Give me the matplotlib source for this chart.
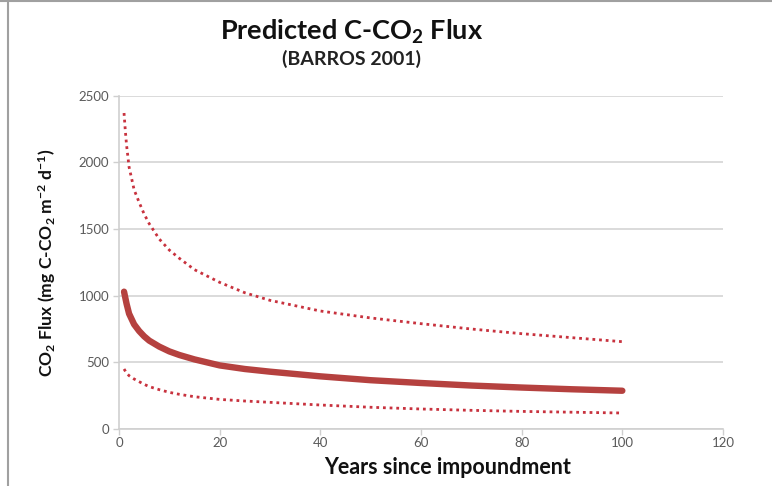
import matplotlib
matplotlib.use("Agg")
import matplotlib.pyplot as plt
from matplotlib.lines import Line2D

plt.rcParams['font.family'] = ['Lato', 'DejaVu Sans']
plt.rcParams['mathtext.fontset'] = 'custom'
plt.rcParams['mathtext.rm'] = 'Lato:bold'
plt.rcParams['mathtext.it'] = 'Lato:bold'
plt.rcParams['mathtext.bf'] = 'Lato:bold'

# Data
years = [1, 1.25, 1.5, 2, 3, 4, 5, 6, 8, 10, 12, 15, 20, 25, 30, 40, 50, 60, 70, 80, 90, 100]
flux_mean = [1030, 985, 940, 865, 785, 735, 695, 663, 618, 582, 555, 522, 477, 450, 430,
             395, 366, 345, 326, 311, 298, 287]
flux_upper = [2370, 2240, 2130, 1965, 1795, 1700, 1612, 1540, 1425, 1342, 1280, 1195, 1100,
              1022, 965, 885, 833, 790, 750, 715, 685, 655]
flux_lower = [450, 435, 420, 400, 375, 355, 335, 318, 295, 275, 260, 242, 222, 210, 200,
              180, 163, 150, 140, 132, 126, 120]

x_ticks = [0, 20, 40, 60, 80, 100, 120]
y_ticks = [0, 500, 1000, 1500, 2000, 2500]

fig = plt.figure(figsize=(7.72, 4.86), dpi=100)
ax = fig.add_axes([119/772, 1 - 429/486, 604/772, (429 - 95.7)/486])

line_col = '#B5413F'
dot_col = '#C8323E'

ax.plot(years, flux_upper, linestyle=(0, (1, 1.4)), color=dot_col, lw=2.0, zorder=3)
ax.plot(years, flux_lower, linestyle=(0, (1, 1.4)), color=dot_col, lw=2.0, zorder=3)
ax.plot(years, flux_mean, color=line_col, lw=4.6, solid_capstyle='round',
        solid_joinstyle='round', zorder=4)

ax.set_xlim(0, 120)
ax.set_ylim(0, 2500)
ax.set_xticks(x_ticks)
ax.set_yticks(y_ticks)
ax.grid(axis='y', color='#D4D4D4', lw=1.2)
ax.set_axisbelow(True)
for s in ['top', 'right']:
    ax.spines[s].set_visible(False)
for s in ['left', 'bottom']:
    ax.spines[s].set_color('#CFCFCF')
    ax.spines[s].set_linewidth(1.2)
ax.tick_params(axis='both', colors='#CFCFCF', labelcolor='#5A5A5A', labelsize=9.5,
               length=4, width=1.0, direction='out')
ax.tick_params(axis='x', pad=2)
ax.tick_params(axis='y', pad=3)

ax.set_ylabel('CO$_2$ Flux (mg C-CO$_2$ m$^{-2}$ d$^{-1}$)', fontsize=12.6,
              fontweight='bold', color='#111111', labelpad=15)
fig.text(448/772, 1 - 467/486, 'Years since impoundment', fontsize=15.5,
         fontweight='bold', ha='center', va='center', color='#111111')

fig.text(352/772, 1 - 32/486, 'Predicted C-CO$_2$ Flux', fontsize=19.5,
         fontweight='bold', ha='center', va='center', color='#111111')
fig.text(351/772, 1 - 59/486, '(BARROS 2001)', fontsize=14,
         fontweight='bold', ha='center', va='center', color='#222222')

# screenshot frame lines (top and left)
fig.add_artist(Line2D([0, 1], [1 - 1.5/486, 1 - 1.5/486], transform=fig.transFigure,
                      color='#A0A0A0', lw=1.5))
fig.add_artist(Line2D([8/772, 8/772], [0, 1 - 1.5/486], transform=fig.transFigure,
                      color='#A0A0A0', lw=1.5))

fig.savefig('out.png', dpi=100)
